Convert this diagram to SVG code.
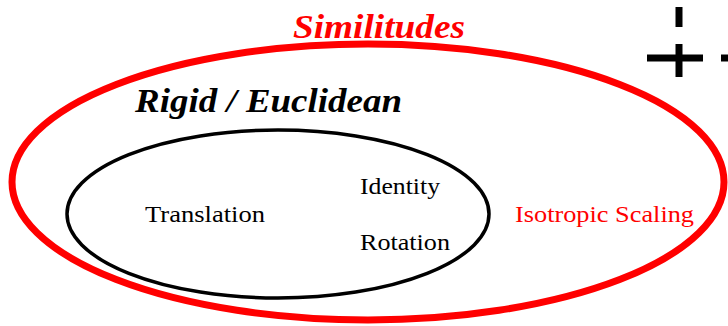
<svg xmlns="http://www.w3.org/2000/svg" width="728" height="326" viewBox="0 0 728 326">
<style>
text{font-family:'Liberation Serif','Times New Roman',Times,Tinos,'Nimbus Roman','Noto Serif','DejaVu Serif',serif;}
.h{font-weight:bold;font-style:italic;font-size:34px;}
.n{font-size:23px;}
.red{fill:#ff0000;}
.blk{fill:#000;}
</style>
<rect width="728" height="326" fill="#fff"/>
<g id="similitudes">
<ellipse cx="368" cy="182" rx="356" ry="138" fill="none" stroke="#ff0000" stroke-width="7"/>
<text class="h red" x="293" y="38" textLength="172" lengthAdjust="spacingAndGlyphs">Similitudes</text>
<text class="n red" x="515" y="222" textLength="179" lengthAdjust="spacingAndGlyphs">Isotropic Scaling</text>
</g>
<g id="rigid">
<ellipse cx="278" cy="214" rx="211" ry="84" fill="none" stroke="#000" stroke-width="3.5"/>
<text class="h blk" x="135" y="112" textLength="267" lengthAdjust="spacingAndGlyphs">Rigid / Euclidean</text>
<text class="n blk" x="145" y="222" textLength="120" lengthAdjust="spacingAndGlyphs">Translation</text>
<text class="n blk" x="360" y="194" textLength="80" lengthAdjust="spacingAndGlyphs">Identity</text>
<text class="n blk" x="360" y="250" textLength="90" lengthAdjust="spacingAndGlyphs">Rotation</text>
</g>
<g id="cross" stroke="#000" stroke-width="7" fill="none">
<line x1="679" y1="7" x2="679" y2="27"/>
<line x1="679" y1="44" x2="679" y2="77"/>
<line x1="647" y1="58" x2="703" y2="58"/>
<line x1="721" y1="58" x2="728" y2="58"/>
</g>
<g id="connectors"></g>
</svg>
